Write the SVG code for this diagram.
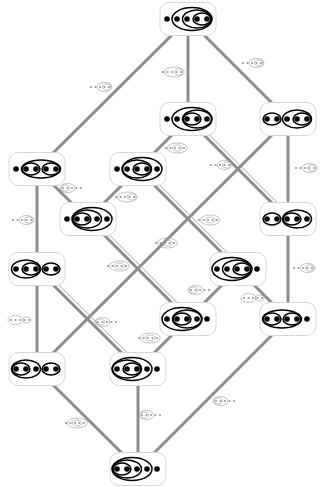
<svg xmlns="http://www.w3.org/2000/svg" width="324" height="487" viewBox="0 0 324 487">
<defs>
<style>
.e{stroke:#8c8c8c;stroke-width:3;fill:none}
.t{stroke:#a8a8a8;stroke-width:1;fill:none}
.box{fill:#fff;stroke:#d8d8d8;stroke-width:1}
.d{fill:#000}
.o{fill:none;stroke:#000;stroke-width:1.5}
.ld{fill:#9a9a9a}
.lo{fill:none;stroke:#a8a8a8;stroke-width:0.7}
</style>
<g id="dots">
<circle class="d" cx="-21" cy="0" r="2.8"/><circle class="d" cx="-11" cy="0" r="2.8"/><circle class="d" cx="-1" cy="0" r="2.8"/><circle class="d" cx="9" cy="0" r="2.8"/><circle class="d" cx="19" cy="0" r="2.8"/>
</g>
<g id="ldots">
<circle class="ld" cx="-9" cy="0" r="1.1"/><circle class="ld" cx="-4.5" cy="0" r="1.1"/><circle class="ld" cx="0" cy="0" r="1.1"/><circle class="ld" cx="4.5" cy="0" r="1.1"/><circle class="ld" cx="9" cy="0" r="1.1"/>
</g>
<g id="R3"><use href="#ldots"/><ellipse class="lo" cx="4.5" cy="0" rx="7.5" ry="4.5"/><ellipse class="lo" cx="6.75" cy="0" rx="4.2" ry="3"/></g>
<g id="R4"><use href="#ldots"/><ellipse class="lo" cx="2.25" cy="0" rx="10" ry="5"/><ellipse class="lo" cx="6.75" cy="0" rx="4.2" ry="3"/></g>
<g id="L3"><use href="#ldots"/><ellipse class="lo" cx="-4.5" cy="0" rx="7.5" ry="4.5"/><ellipse class="lo" cx="-6.75" cy="0" rx="4.2" ry="3"/></g>
<g id="M"><use href="#ldots"/><ellipse class="lo" cx="2.25" cy="0" rx="10" ry="5"/><ellipse class="lo" cx="2.25" cy="0" rx="5" ry="3"/></g>
<g id="LR"><use href="#ldots"/><ellipse class="lo" cx="-4.5" cy="0" rx="7.5" ry="4.5"/><ellipse class="lo" cx="6.75" cy="0" rx="4.2" ry="3"/></g>
<rect id="bx" class="box" x="-28" y="-16.5" width="56" height="33" rx="9"/>
</defs>
<rect width="324" height="487" fill="#fff"/>
<g id="connectors">
<line class="e" x1="188" y1="19" x2="188" y2="119"/>
<line class="e" x1="188" y1="19" x2="288" y2="119"/>
<line class="e" x1="188" y1="19" x2="37" y2="169"/>
<line class="e" x1="188" y1="119" x2="138" y2="169"/>
<line class="e" x1="188" y1="119" x2="288" y2="219"/><line class="t" x1="190.8" y1="116.2" x2="290.8" y2="216.2"/>
<line class="e" x1="288" y1="119" x2="288" y2="219"/>
<line class="e" x1="288" y1="119" x2="37" y2="369"/>
<line class="e" x1="37" y1="169" x2="88" y2="219"/>
<line class="e" x1="37" y1="169" x2="37" y2="269"/>
<line class="e" x1="138" y1="169" x2="88" y2="219"/>
<line class="e" x1="138" y1="169" x2="238" y2="269"/><line class="t" x1="140.8" y1="166.2" x2="240.8" y2="266.2"/>
<line class="e" x1="88" y1="219" x2="188" y2="319"/><line class="t" x1="90.8" y1="216.2" x2="190.8" y2="316.2"/>
<line class="e" x1="288" y1="219" x2="288" y2="319"/>
<line class="e" x1="37" y1="269" x2="37" y2="369"/>
<line class="e" x1="37" y1="269" x2="138" y2="369"/><line class="t" x1="39.8" y1="266.2" x2="140.8" y2="366.2"/>
<line class="e" x1="238" y1="269" x2="188" y2="319"/>
<line class="e" x1="238" y1="269" x2="288" y2="319"/>
<line class="e" x1="188" y1="319" x2="138" y2="369"/>
<line class="e" x1="288" y1="319" x2="138" y2="469"/>
<line class="e" x1="37" y1="369" x2="138" y2="469"/>
<line class="e" x1="138" y1="369" x2="138" y2="469"/>
</g>
<g id="labels">
<use href="#R3" x="100" y="87"/>
<use href="#R4" x="172" y="72"/>
<use href="#R3" x="252" y="63"/>
<use href="#M" x="175" y="148"/>
<use href="#R3" x="220" y="165"/>
<use href="#R3" x="305" y="168"/>
<use href="#L3" x="72" y="188"/>
<use href="#R4" x="125" y="197"/>
<use href="#R3" x="22" y="220"/>
<use href="#M" x="208" y="220"/>
<use href="#M" x="165" y="243"/>
<use href="#M" x="117" y="266"/>
<use href="#R3" x="303" y="268"/>
<use href="#L3" x="200" y="290"/>
<use href="#LR" x="253" y="298"/>
<use href="#LR" x="20" y="320"/>
<use href="#L3" x="107" y="322"/>
<use href="#M" x="148" y="338"/>
<use href="#L3" x="225" y="401"/>
<use href="#M" x="75" y="423"/>
<use href="#L3" x="151" y="415"/>
</g>
<g id="n1" transform="translate(188,19)"><use href="#bx"/><use href="#dots"/>
<ellipse class="o" cx="14" cy="0" rx="9" ry="6"/><ellipse class="o" cx="9" cy="0" rx="14.5" ry="9"/><ellipse class="o" cx="4" cy="0" rx="20" ry="11.5"/></g>
<g id="n2" transform="translate(188,119)"><use href="#bx"/><use href="#dots"/>
<ellipse class="o" cx="4" cy="0" rx="9" ry="6"/><ellipse class="o" cx="9" cy="0" rx="14.5" ry="9"/><ellipse class="o" cx="4" cy="0" rx="20" ry="11.5"/></g>
<g id="n3" transform="translate(288,119)"><use href="#bx"/><use href="#dots"/>
<ellipse class="o" cx="-16" cy="0" rx="9" ry="6"/><ellipse class="o" cx="14" cy="0" rx="9" ry="6"/><ellipse class="o" cx="9" cy="0" rx="14.5" ry="9"/></g>
<g id="n4" transform="translate(37,169)"><use href="#bx"/><use href="#dots"/>
<ellipse class="o" cx="-6" cy="0" rx="9" ry="6"/><ellipse class="o" cx="14" cy="0" rx="9" ry="6"/><ellipse class="o" cx="4" cy="0" rx="19.5" ry="9"/></g>
<g id="n5" transform="translate(138,169)"><use href="#bx"/><use href="#dots"/>
<ellipse class="o" cx="4" cy="0" rx="9" ry="6"/><ellipse class="o" cx="-1" cy="0" rx="14.5" ry="9"/><ellipse class="o" cx="4" cy="0" rx="20" ry="11.5"/></g>
<g id="n6" transform="translate(88,219)"><use href="#bx"/><use href="#dots"/>
<ellipse class="o" cx="-6" cy="0" rx="9" ry="6"/><ellipse class="o" cx="-1" cy="0" rx="14.5" ry="9"/><ellipse class="o" cx="4" cy="0" rx="20" ry="11.5"/></g>
<g id="n7" transform="translate(288,219)"><use href="#bx"/><use href="#dots"/>
<ellipse class="o" cx="-16" cy="0" rx="9" ry="6"/><ellipse class="o" cx="4" cy="0" rx="9" ry="6"/><ellipse class="o" cx="9" cy="0" rx="14.5" ry="9"/></g>
<g id="n8" transform="translate(37,269)"><use href="#bx"/><use href="#dots"/>
<ellipse class="o" cx="-6" cy="0" rx="9" ry="6"/><ellipse class="o" cx="-11" cy="0" rx="14.5" ry="9"/><ellipse class="o" cx="14" cy="0" rx="9" ry="6"/></g>
<g id="n9" transform="translate(238,269)"><use href="#bx"/><use href="#dots"/>
<ellipse class="o" cx="4" cy="0" rx="9" ry="6"/><ellipse class="o" cx="-1" cy="0" rx="14.5" ry="9"/><ellipse class="o" cx="-6" cy="0" rx="20" ry="11.5"/></g>
<g id="n10" transform="translate(188,319)"><use href="#bx"/><use href="#dots"/>
<ellipse class="o" cx="-6" cy="0" rx="9" ry="6"/><ellipse class="o" cx="-1" cy="0" rx="14.5" ry="9"/><ellipse class="o" cx="-6" cy="0" rx="20" ry="11.5"/></g>
<g id="n11" transform="translate(288,319)"><use href="#bx"/><use href="#dots"/>
<ellipse class="o" cx="-16" cy="0" rx="9" ry="6"/><ellipse class="o" cx="4" cy="0" rx="9" ry="6"/><ellipse class="o" cx="-6" cy="0" rx="19.5" ry="9"/></g>
<g id="n12" transform="translate(37,369)"><use href="#bx"/><use href="#dots"/>
<ellipse class="o" cx="-16" cy="0" rx="9" ry="6"/><ellipse class="o" cx="-11" cy="0" rx="14.5" ry="9"/><ellipse class="o" cx="14" cy="0" rx="9" ry="6"/></g>
<g id="n13" transform="translate(138,369)"><use href="#bx"/><use href="#dots"/>
<ellipse class="o" cx="-6" cy="0" rx="9" ry="6"/><ellipse class="o" cx="-11" cy="0" rx="14.5" ry="9"/><ellipse class="o" cx="-6" cy="0" rx="20" ry="11.5"/></g>
<g id="n14" transform="translate(138,469)"><use href="#bx"/><use href="#dots"/>
<ellipse class="o" cx="-16" cy="0" rx="9" ry="6"/><ellipse class="o" cx="-11" cy="0" rx="14.5" ry="9"/><ellipse class="o" cx="-6" cy="0" rx="20" ry="11.5"/></g>
</svg>
